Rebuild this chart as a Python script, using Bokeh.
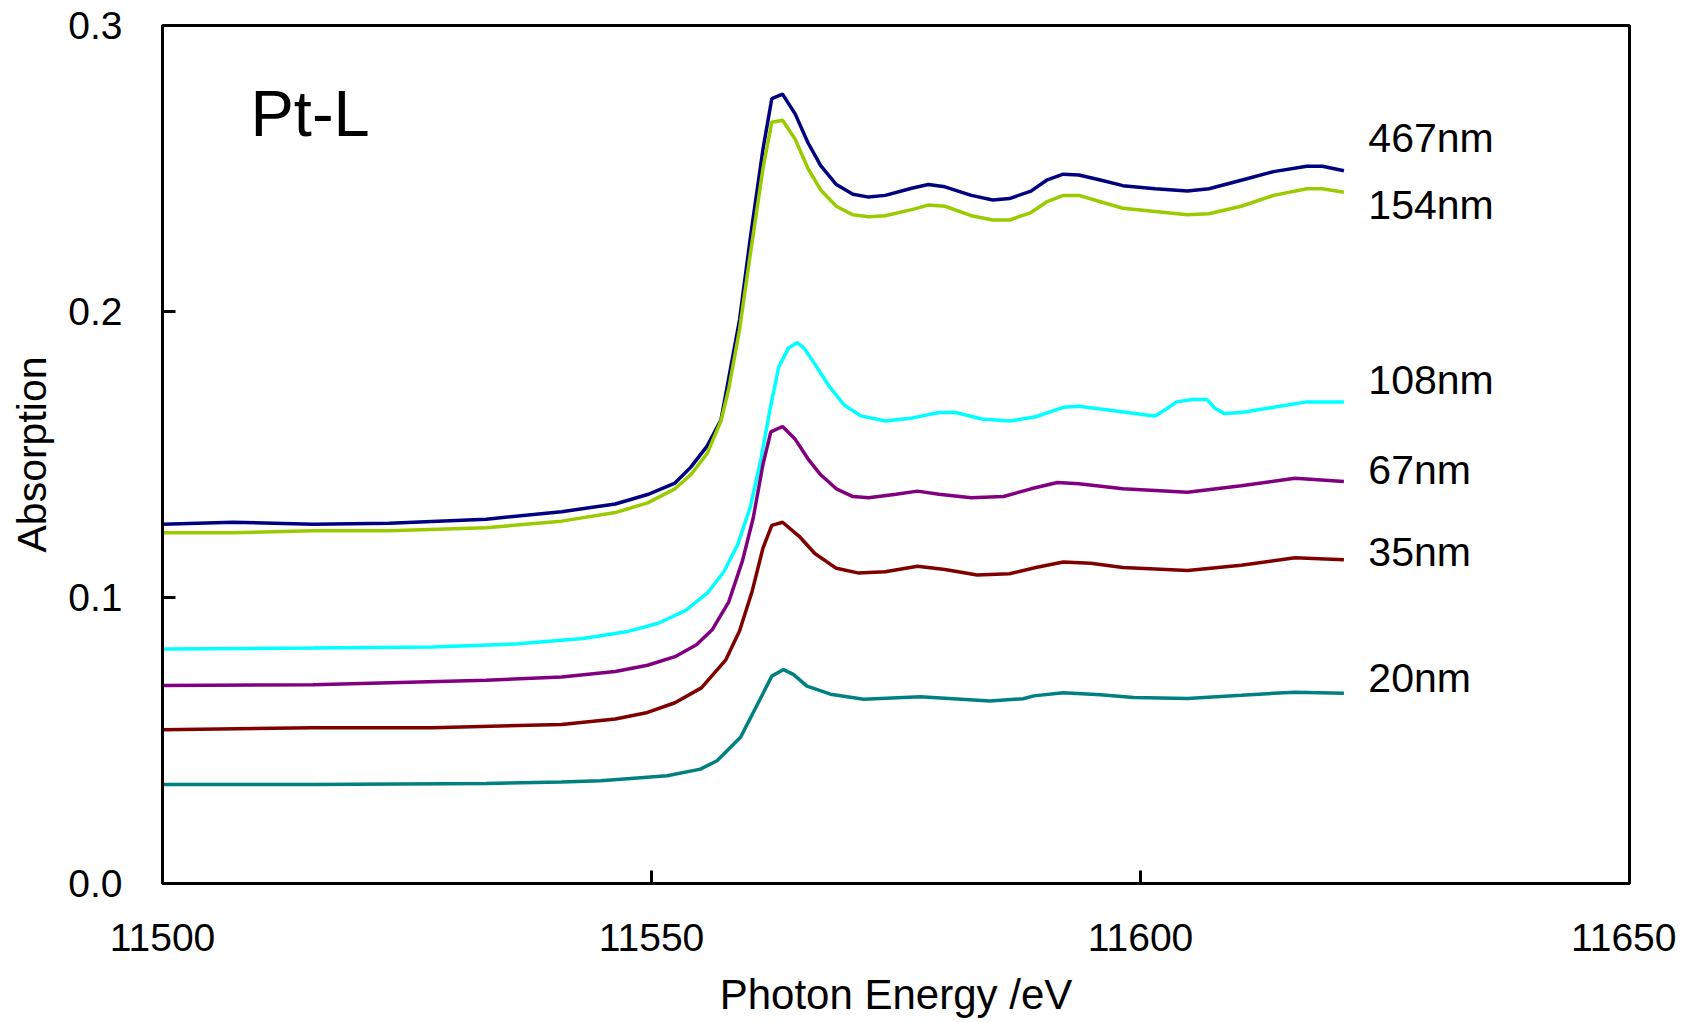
from bokeh.plotting import figure
from bokeh.models import Range1d, FixedTicker, PrintfTickFormatter, ColumnDataSource
from bokeh.core.properties import value
from bokeh.embed import file_html
from bokeh.resources import INLINE

# ---------------- data ----------------
e_467 = [11500.0, 11507.2, 11515.4, 11523.2, 11533.1, 11540.8, 11546.3, 11549.6, 11552.4, 11554.0,
         11555.7, 11557.1, 11557.9, 11559.0, 11560.1, 11561.4, 11562.3, 11563.4, 11564.7, 11566.0,
         11567.3, 11568.9, 11570.6, 11572.2, 11573.9, 11576.7, 11578.3, 11580.0, 11582.7, 11584.9,
         11586.6, 11588.8, 11590.4, 11592.1, 11593.7, 11596.0, 11598.2, 11601.5, 11604.8, 11607.0,
         11610.3, 11613.6, 11617.0, 11618.6, 11620.8]
a_467 = [0.1256, 0.1263, 0.1256, 0.1260, 0.1274, 0.1300, 0.1327, 0.1360, 0.1400, 0.1455,
         0.1530, 0.1620, 0.1767, 0.1970, 0.2256, 0.2568, 0.2744, 0.2760, 0.2690, 0.2590,
         0.2510, 0.2444, 0.2410, 0.2400, 0.2406, 0.2432, 0.2444, 0.2436, 0.2406, 0.2390,
         0.2395, 0.2421, 0.2459, 0.2480, 0.2477, 0.2459, 0.2440, 0.2429, 0.2421, 0.2429,
         0.2459, 0.2489, 0.2508, 0.2508, 0.2492]

e_154 = e_467
a_154 = [0.1226, 0.1226, 0.1233, 0.1233, 0.1244, 0.1267, 0.1297, 0.1331, 0.1380, 0.1429,
         0.1504, 0.1617, 0.1730, 0.1936, 0.2199, 0.2500, 0.2662, 0.2669, 0.2602, 0.2500,
         0.2425, 0.2368, 0.2338, 0.2331, 0.2335, 0.2357, 0.2372, 0.2368, 0.2335, 0.2320,
         0.2320, 0.2346, 0.2383, 0.2406, 0.2406, 0.2383, 0.2361, 0.2350, 0.2338, 0.2342,
         0.2368, 0.2406, 0.2429, 0.2429, 0.2417]

e_108 = [11500.0, 11515.4, 11527.6, 11536.4, 11543.0, 11547.4, 11550.7, 11553.5, 11555.7, 11557.4,
         11558.8, 11560.1, 11561.2, 11562.1, 11563.0, 11564.0, 11564.9, 11565.6, 11566.7, 11568.2,
         11569.7, 11571.4, 11573.9, 11576.7, 11579.4, 11581.1, 11583.8, 11586.6, 11589.3, 11592.1,
         11593.7, 11597.1, 11600.4, 11601.5, 11602.4, 11603.7, 11605.3, 11606.8, 11607.6, 11608.6,
         11610.3, 11613.6, 11617.0, 11620.8]
a_108 = [0.0820, 0.0823, 0.0827, 0.0838, 0.0857, 0.0880, 0.0910, 0.0955, 0.1015, 0.1090,
         0.1184, 0.1316, 0.1485, 0.1654, 0.1805, 0.1872, 0.1891, 0.1872, 0.1816, 0.1737,
         0.1673, 0.1635, 0.1617, 0.1628, 0.1647, 0.1647, 0.1624, 0.1617, 0.1632, 0.1665,
         0.1669, 0.1654, 0.1639, 0.1635, 0.1654, 0.1684, 0.1692, 0.1692, 0.1662, 0.1643,
         0.1647, 0.1665, 0.1684, 0.1684]

e_67 = [11500.0, 11515.4, 11533.1, 11540.8, 11546.3, 11549.6, 11552.4, 11554.6, 11556.2, 11557.9,
        11559.3, 11560.4, 11561.4, 11562.2, 11563.4, 11564.7, 11566.0, 11567.3, 11568.9, 11570.6,
        11572.2, 11575.0, 11577.2, 11579.4, 11582.7, 11586.0, 11588.8, 11591.5, 11593.7, 11598.2,
        11604.8, 11610.3, 11615.8, 11620.8]
a_67 = [0.0692, 0.0695, 0.0711, 0.0722, 0.0741, 0.0763, 0.0793, 0.0835, 0.0887, 0.0985,
        0.1128, 0.1278, 0.1466, 0.1579, 0.1598, 0.1553, 0.1485, 0.1429, 0.1380, 0.1353,
        0.1349, 0.1361, 0.1372, 0.1361, 0.1349, 0.1353, 0.1380, 0.1402, 0.1398, 0.1380,
        0.1368, 0.1391, 0.1417, 0.1406]

e_35 = [11500.0, 11515.4, 11527.6, 11540.8, 11546.3, 11549.6, 11552.4, 11555.1, 11557.6, 11559.0,
        11560.3, 11561.4, 11562.3, 11563.4, 11565.1, 11566.7, 11568.9, 11571.1, 11573.9, 11577.2,
        11580.0, 11583.3, 11586.6, 11589.3, 11592.1, 11594.9, 11598.2, 11604.8, 11610.3, 11615.8,
        11620.8]
a_35 = [0.0538, 0.0545, 0.0545, 0.0556, 0.0575, 0.0598, 0.0632, 0.0684, 0.0782, 0.0883,
        0.1023, 0.1173, 0.1252, 0.1263, 0.1214, 0.1154, 0.1102, 0.1086, 0.1090, 0.1109,
        0.1098, 0.1079, 0.1083, 0.1105, 0.1124, 0.1120, 0.1105, 0.1094, 0.1113, 0.1139,
        0.1132]

e_20 = [11500.0, 11515.4, 11533.1, 11540.8, 11544.8, 11551.6, 11555.0, 11556.7, 11559.1, 11561.1,
        11562.3, 11563.5, 11564.5, 11565.9, 11568.3, 11571.7, 11577.5, 11584.6, 11588.0, 11589.1,
        11592.1, 11595.9, 11599.3, 11604.8, 11610.3, 11613.6, 11615.8, 11620.8]
a_20 = [0.0346, 0.0346, 0.0350, 0.0355, 0.0359, 0.0377, 0.0400, 0.0429, 0.0511, 0.0644,
        0.0725, 0.0748, 0.0731, 0.0690, 0.0662, 0.0644, 0.0653, 0.0638, 0.0646, 0.0656,
        0.0667, 0.0660, 0.0650, 0.0647, 0.0658, 0.0665, 0.0669, 0.0665]

series_names = ["467nm", "154nm", "108nm", "67nm", "35nm", "20nm"]
series_colors = ["#000080", "#99CC00", "#00FFFF", "#800080", "#800000", "#008080"]
series_x = [e_467, e_154, e_108, e_67, e_35, e_20]
series_y = [a_467, a_154, a_108, a_67, a_35, a_20]

label_x = 11623.3
label_y = [0.2605, 0.2372, 0.1760, 0.1447, 0.1160, 0.0718]

x_ticks = [11500, 11550, 11600, 11650]
y_ticks = [0.0, 0.1, 0.2, 0.3]

FONT = "Liberation Sans"

# ---------------- figure ----------------
p = figure(width=1676, height=1020, output_backend="svg", toolbar_location=None,
           x_range=Range1d(11500, 11650), y_range=Range1d(0, 0.3),
           min_border_left=162, min_border_top=25, min_border_right=47, min_border_bottom=137)
p.grid.visible = False
p.outline_line_color = "black"
p.outline_line_width = 3
p.background_fill_color = "white"
p.border_fill_color = "white"

for xs, ys, c in zip(series_x, series_y, series_colors):
    p.line(xs, ys, line_color=c, line_width=3.5)

src = ColumnDataSource(dict(x=[label_x] * len(series_names), y=label_y, t=series_names))
p.text(x="x", y="y", text="t", source=src, text_font=value(FONT), text_font_size="41px",
       text_color="black", text_align="left", text_baseline="alphabetic")

p.text(x=[11509.0], y=[0.2692], text=["Pt-L"], text_font=value(FONT), text_font_size="65px",
       text_color="black", text_align="left", text_baseline="alphabetic")

for ax in (p.xaxis[0], p.yaxis[0]):
    ax.axis_line_color = "black"
    ax.axis_line_width = 3
    ax.major_tick_in = 13
    ax.major_tick_out = 0
    ax.major_tick_line_width = 3
    ax.major_tick_line_color = "black"
    ax.minor_tick_line_color = None
    ax.major_label_text_font = FONT
    ax.major_label_text_font_size = "39px"
    ax.major_label_text_color = "black"
    ax.axis_label_text_font = FONT
    ax.axis_label_text_font_style = "normal"
    ax.axis_label_text_color = "black"

p.xaxis.ticker = FixedTicker(ticks=x_ticks)
p.xaxis.formatter = PrintfTickFormatter(format="%d")
p.xaxis.axis_label = "Photon Energy /eV"
p.xaxis.axis_label_text_font_size = "42px"
p.xaxis.major_label_standoff = 40
p.xaxis.axis_label_standoff = 17

p.yaxis.ticker = FixedTicker(ticks=y_ticks)
p.yaxis.formatter = PrintfTickFormatter(format="%.1f")
p.yaxis.axis_label = "Absorption"
p.yaxis.axis_label_text_font_size = "41px"
p.yaxis.major_label_standoff = 40
p.yaxis.axis_label_standoff = 10

open("out.html", "w").write(file_html(p, INLINE))
